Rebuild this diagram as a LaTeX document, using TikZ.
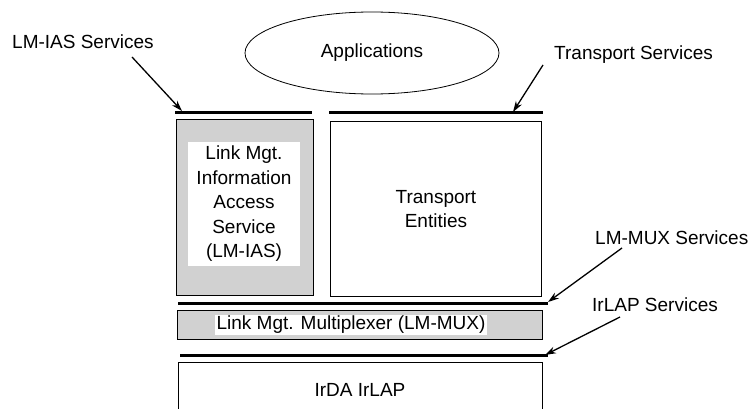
\documentclass[tikz,border=0pt]{standalone}
\usepackage{fontspec}
\setmainfont{Liberation Sans}
\usetikzlibrary{arrows.meta,shapes.geometric}
\begin{document}
\begin{tikzpicture}[x=1pt,y=-1pt,
  every node/.style={font=\fontsize{19}{24.5}\selectfont},
  lbl/.style={inner sep=0pt},
  layerbox/.style={draw=black,line width=0.9pt,anchor=north west,inner sep=0pt},
  shadebox/.style={layerbox,fill=black!18},
  textbg/.style={fill=white,inner sep=2pt,align=center},
  bar/.style={line width=3pt},
  ptr/.style={line width=1.3pt,-{Stealth[length=11pt,width=7pt]}}]
\useasboundingbox (0,0) rectangle (750,409);
% applications
\node[draw,ellipse,line width=0.8pt,minimum width=254pt,minimum height=82pt,inner sep=0pt] (app) at (372,53) {Applications};
% boxes
\node[shadebox,minimum width=137pt,minimum height=176pt] (ias) at (176,119) {};
\node[textbg,minimum width=112pt,minimum height=124pt] (iastext) at (244,204) {Link Mgt.\\Information\\Access\\Service\\(LM-IAS)};
\node[layerbox,minimum width=211pt,minimum height=175pt,align=center] (tp) at (330,121) {Transport\\Entities};
\node[shadebox,minimum width=365pt,minimum height=29pt] (mux) at (177,310) {};
\node[textbg,inner sep=1.5pt] (muxtext) at (351,325) {Link Mgt. Multiplexer (LM-MUX)};
\coordinate (lapnw) at (178,362);
\coordinate (lapne) at (542,362);
\draw[line width=0.9pt] (178,412) -- (lapnw) -- (lapne) -- (542,412);
\node (lap) at (360,390) {IrDA IrLAP};
% service bars
\coordinate (iasbarL) at (175,113);
\coordinate (iasbarR) at (312,113);
\coordinate (tpbarL) at (329,113);
\coordinate (tpbarR) at (543,113);
\coordinate (muxbarL) at (178,303);
\coordinate (muxbarR) at (548,303);
\coordinate (lapbarL) at (180,355.5);
\coordinate (lapbarR) at (548,355.5);
\draw[bar] (iasbarL) -- (iasbarR);
\draw[bar] (tpbarL) -- (tpbarR);
\draw[bar] (muxbarL) -- (muxbarR);
\draw[bar] (lapbarL) -- (lapbarR);
% labels
\node[lbl,anchor=west] (iaslbl) at (12,42) {LM-IAS Services};
\node[lbl,anchor=west] (tplbl) at (554,55) {Transport Services};
\node[lbl,anchor=west] (muxlbl) at (595,238) {LM-MUX Services};
\node[lbl,anchor=west] (laplbl) at (592,305) {IrLAP Services};
% arrows
\coordinate (iasA) at (132,57);
\coordinate (iasT) at (182,111);
\coordinate (tpA) at (543,65);
\coordinate (tpT) at (513,112);
\coordinate (muxA) at (622,248);
\coordinate (muxT) at (548,302);
\coordinate (lapA) at (620,317);
\coordinate (lapT) at (545,355);
\draw[ptr] (iasA) -- (iasT);
\draw[ptr] (tpA) -- (tpT);
\draw[ptr] (muxA) -- (muxT);
\draw[ptr] (lapA) -- (lapT);
\end{tikzpicture}
\end{document}
